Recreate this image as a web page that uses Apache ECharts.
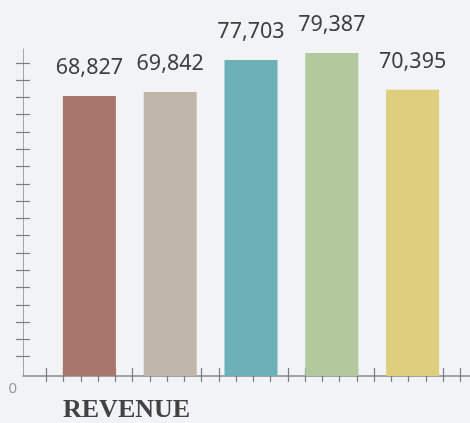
<!DOCTYPE html>
<html>
<head>
<meta charset="utf-8">
<title>Revenue</title>
<script src="https://cdn.jsdelivr.net/npm/echarts@6/dist/echarts.min.js"></script>
<style>
  html, body { margin: 0; padding: 0; background: #f2f3f5; }
  #chart { width: 470px; height: 423px; }
</style>
</head>
<body>
<div id="chart"></div>
<script>
// data
const categories = ['A', 'B', 'C', 'D', 'E'];
const revenue = [68827, 69842, 77703, 79387, 70395];
const barColors = ['#a8766c', '#c0b7aa', '#6cb0b8', '#b1c99c', '#dfce7d'];
const yMax = 80400;
const yTicks = [4750, 9000, 13250, 17500, 21750, 26000, 30250, 34500, 38750,
  43000, 47250, 51500, 55750, 60000, 64250, 68500, 72750, 77000];
const xTicks = [23.25, 40.5, 57.75, 75, 92.25, 109.5, 126.75, 144, 161.25, 178.5,
  195.75, 213, 230.25, 247.5, 264.75, 282, 299.25, 316.5, 333.75, 351, 368.25,
  385.5, 402.75, 420, 437.25];
const xMax = 447;

const chart = echarts.init(document.getElementById('chart'));

const tickStyle = { color: '#7c7c7c', width: 1.2 };

const option = {
  backgroundColor: '#f2f3f5',
  animation: false,
  title: {
    text: 'REVENUE',
    left: 63,
    top: 397,
    padding: 0,
    textStyle: {
      fontFamily: 'Liberation Serif',
      fontWeight: 'bold',
      fontSize: 26,
      color: '#424242'
    }
  },
  grid: [
    { left: 23, right: 0, top: 49, bottom: 47 },
    { left: 49, right: 17, top: 49, bottom: 47 }
  ],
  xAxis: [
    {
      gridIndex: 0, type: 'value', min: 0, max: xMax, position: 'bottom',
      axisLine: { show: true, lineStyle: { color: '#888', width: 1.5 } },
      axisTick: { show: true, length: 6, customValues: xTicks, lineStyle: tickStyle },
      axisLabel: { show: false },
      splitLine: { show: false }
    },
    {
      gridIndex: 0, type: 'value', min: 0, max: xMax, position: 'bottom',
      axisLine: { show: false },
      axisTick: { show: true, inside: true, length: 8, customValues: xTicks, lineStyle: tickStyle },
      axisLabel: { show: false },
      splitLine: { show: false }
    },
    {
      gridIndex: 1, type: 'category', data: categories, show: false
    }
  ],
  yAxis: [
    {
      gridIndex: 0, type: 'value', min: 0, max: yMax, position: 'left',
      axisLine: { show: true, lineStyle: { color: '#a5a5a5', width: 1 } },
      axisTick: { show: true, length: 7, customValues: yTicks, lineStyle: tickStyle },
      axisLabel: {
        show: true, customValues: [0], margin: 6, verticalAlign: 'top',
        padding: [5, 0, 0, 0], fontSize: 15, fontFamily: 'Noto Sans', color: '#999'
      },
      splitLine: { show: false }
    },
    {
      gridIndex: 0, type: 'value', min: 0, max: yMax, position: 'left',
      axisLine: { show: false },
      axisTick: { show: true, inside: true, length: 7, customValues: yTicks, lineStyle: tickStyle },
      axisLabel: { show: false },
      splitLine: { show: false }
    },
    {
      gridIndex: 1, type: 'value', min: 0, max: yMax, show: false
    }
  ],
  series: [{
    type: 'bar',
    xAxisIndex: 2,
    yAxisIndex: 2,
    barWidth: 53,
    data: revenue.map((v, i) => ({ value: v, itemStyle: { color: barColors[i] } })),
    label: {
      show: true,
      position: 'top',
      distance: 17,
      fontSize: 21.5,
      fontFamily: 'Noto Sans',
      color: '#404040',
      formatter: p => p.value.toLocaleString('en-US')
    }
  }]
};

chart.setOption(option);
</script>
</body>
</html>
